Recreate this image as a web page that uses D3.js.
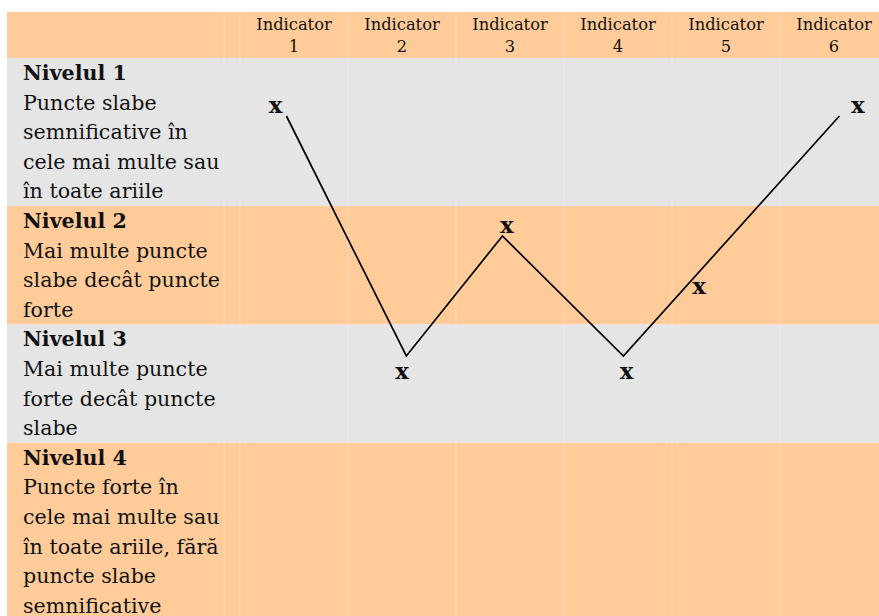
<!DOCTYPE html>
<html>
<head>
<meta charset="utf-8">
<script src="https://cdn.jsdelivr.net/npm/d3@7"></script>
<style>
  body { margin: 0; background: #fff; }
  text { font-family: "DejaVu Serif", serif; fill: #111; }
</style>
</head>
<body>
<svg width="879" height="616"></svg>
<script>
// column headers
var indicators = ["Indicator 1", "Indicator 2", "Indicator 3", "Indicator 4", "Indicator 5", "Indicator 6"];

// row labels, already wrapped as in the picture
var levelTitles = ["Nivelul 1", "Nivelul 2", "Nivelul 3", "Nivelul 4"];
var levelLines = [
  ["Puncte slabe", "semnificative în", "cele mai multe sau", "în toate ariile"],
  ["Mai multe puncte", "slabe decât puncte", "forte"],
  ["Mai multe puncte", "forte decât puncte", "slabe"],
  ["Puncte forte în", "cele mai multe sau", "în toate ariile, fără", "puncte slabe", "semnificative"]
];

// hand drawn line (position in indicator units, level)
var linePos = [0.93, 2.04, 2.93, 4.05, 6.05];
var lineLevel = [1, 3, 2, 3, 1];

// "x" marks, one per indicator
var markPos = [0.83, 2.0, 2.97, 4.08, 4.75, 6.22];
var markLevel = [0.9, 3.12, 1.9, 3.12, 2.41, 0.9];

var svg = d3.select("svg"),
    x0 = 7, y0 = 12,
    headH = 46,
    lineH = 29.6,
    peach = "#ffcc99", grey = "#e5e5e5";

var band = d3.scaleBand()
    .domain(indicators)
    .range([240, 888]);

var x = d3.scaleLinear()
    .domain([1, 6])
    .range([band(indicators[0]) + band.bandwidth() / 2, band(indicators[5]) + band.bandwidth() / 2]);

var y = d3.scaleLinear()
    .domain([1, 3])
    .range([116, 356]);

// row geometry
var rows = [], yy = y0 + headH;
levelTitles.forEach(function(t, i) {
  var h = (levelLines[i].length + 1) * lineH;
  rows.push({title: t, lines: levelLines[i], y: yy, h: h, i: i});
  yy += h;
});

// header band
svg.append("rect")
    .attr("x", x0).attr("y", y0)
    .attr("width", 879 - x0).attr("height", headH)
    .attr("fill", peach);

svg.selectAll(".row")
  .data(rows)
  .enter().append("rect")
    .attr("x", x0)
    .attr("y", function(d) { return d.y; })
    .attr("width", 879 - x0)
    .attr("height", function(d) { return d.h; })
    .attr("fill", function(d) { return d.i % 2 ? peach : grey; });

// faint cell borders
var vlines = [224].concat(indicators.map(function(d) { return band(d); }));
svg.selectAll(".vl")
  .data(vlines)
  .enter().append("line")
    .attr("x1", function(d) { return d; })
    .attr("x2", function(d) { return d; })
    .attr("y1", y0)
    .attr("y2", 616)
    .attr("stroke", "#fff")
    .attr("stroke-opacity", 0.3)
    .attr("stroke-width", 1);

// header text
var head = svg.selectAll(".head")
  .data(indicators)
  .enter().append("text")
    .attr("text-anchor", "middle")
    .attr("font-size", 16.3)
    .attr("x", function(d) { return band(d) + band.bandwidth() / 2; })
    .attr("y", 30);
head.append("tspan")
    .text(function(d) { return d.split(" ")[0]; });
head.append("tspan")
    .attr("x", function(d) { return band(d) + band.bandwidth() / 2; })
    .attr("dy", 22)
    .text(function(d) { return d.split(" ")[1]; });

// row labels
var lab = svg.selectAll(".lab")
  .data(rows)
  .enter().append("text")
    .attr("x", 23)
    .attr("y", function(d) { return d.y + 22; })
    .attr("font-size", 20.6);
lab.append("tspan")
    .attr("font-weight", "bold")
    .text(function(d) { return d.title; });
lab.each(function(d) {
  var t = d3.select(this);
  d.lines.forEach(function(s) {
    t.append("tspan").attr("x", 23).attr("dy", lineH).text(s);
  });
});

// the profile line
var line = d3.line()
    .x(function(d) { return x(d[0]); })
    .y(function(d) { return y(d[1]); });

svg.append("path")
    .attr("d", line(d3.zip(linePos, lineLevel)))
    .attr("fill", "none")
    .attr("stroke", "#000")
    .attr("stroke-width", 1.7);

svg.selectAll(".mark")
  .data(d3.zip(markPos, markLevel))
  .enter().append("text")
    .attr("x", function(d) { return x(d[0]); })
    .attr("y", function(d) { return y(d[1]); })
    .attr("text-anchor", "middle")
    .attr("dominant-baseline", "central")
    .attr("font-size", 23)
    .attr("font-weight", "bold")
    .text("x");
</script>
</body>
</html>
